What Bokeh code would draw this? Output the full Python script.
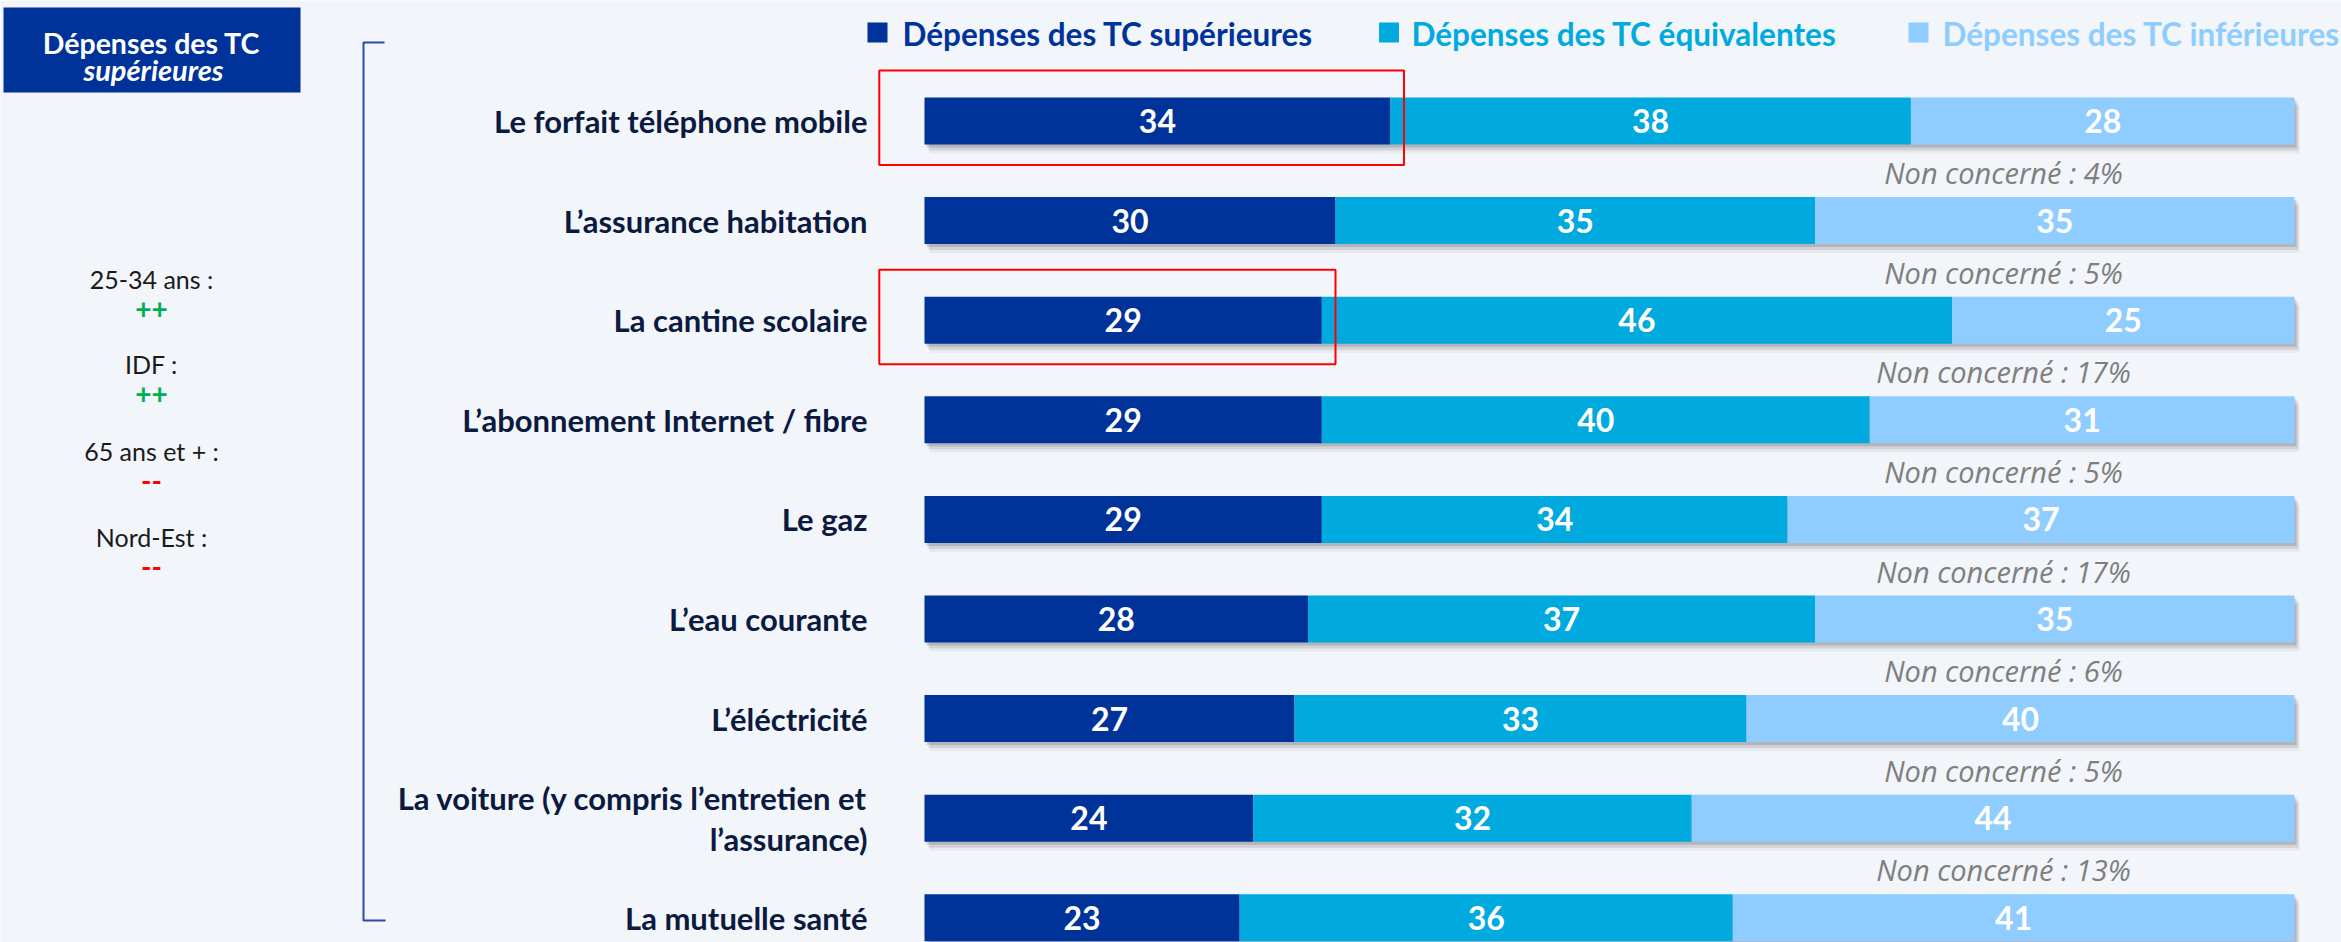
from bokeh.plotting import figure
from bokeh.models import Range1d
from bokeh.core.properties import value
from bokeh.embed import file_html
from bokeh.resources import INLINE

# ---------------- data ----------------
categories = [
    "Le forfait téléphone mobile",
    "L’assurance habitation",
    "La cantine scolaire",
    "L’abonnement Internet / fibre",
    "Le gaz",
    "L’eau courante",
    "L’éléctricité",
    "La voiture (y compris l’entretien et\nl’assurance)",
    "La mutuelle santé",
]
sup = [34, 30, 29, 29, 29, 28, 27, 24, 23]
equiv = [38, 35, 46, 40, 34, 37, 33, 32, 36]
inf = [28, 35, 25, 31, 37, 35, 40, 44, 41]
non_concerne = [4, 5, 17, 5, 17, 6, 5, 13, None]
series_names = ["Dépenses des TC supérieures", "Dépenses des TC équivalentes", "Dépenses des TC inférieures"]
colors = ["#003399", "#00AADE", "#8FCCFF"]
highlight_rows = [0, 2]
side_title = ["Dépenses des TC", "supérieures"]
side_groups = ["25-34 ans :", "IDF :", "65 ans et + :", "Nord-Est :"]
side_marks = ["++", "++", "--", "--"]
side_mark_colors = ["#00B050", "#00B050", "#FF0000", "#FF0000"]

# ---------------- layout ----------------
W, H = 2341, 942
M = 0
X0, PXU = 924.0, 13.7      # page px of 0 %, px per %
Y0, ROWH = 120.5, 99.6     # page px of first row centre, px per row
BG = "#F2F5FA"
FONT = value("Lato")


def fx(px):
    return (px - X0) / PXU


def fy(py):
    return (py - Y0) / ROWH


p = figure(width=W, height=H, output_backend="svg", toolbar_location=None,
           x_range=Range1d(fx(M), fx(M + W)), y_range=Range1d(fy(M + H), fy(M)),
           min_border=0, outline_line_color=None,
           background_fill_color=BG, border_fill_color=BG)
p.axis.visible = False
p.grid.visible = False

n = len(categories)
rows = list(range(n))
bar_h = 47 / ROWH
totals = [a + b + c for a, b, c in zip(sup, equiv, inf)]

# shadows
for dx, dy, a in [(5, 9, 0.06), (4, 6, 0.12), (2, 3, 0.18)]:
    p.hbar(y=[r + dy / ROWH for r in rows], left=[dx / PXU] * n,
           right=[t + dx / PXU for t in totals], height=bar_h,
           fill_color="#30343a", fill_alpha=a, line_color=None)

# stacked bars
lefts = [0] * n
for vals, col in zip([sup, equiv, inf], colors):
    rights = [l + v for l, v in zip(lefts, vals)]
    p.hbar(y=rows, left=lefts, right=rights, height=bar_h,
           fill_color=col, line_color=None)
    p.text(x=[(l + r) / 2 for l, r in zip(lefts, rights)], y=rows,
           text=[str(v) for v in vals], text_font=FONT, text_font_style="bold",
           text_font_size="32px", text_color="white",
           text_align="center", text_baseline="middle")
    lefts = rights

# category labels
p.text(x=[fx(867)] * n, y=rows, text=categories, text_font=FONT,
       text_font_style="bold", text_font_size="31px", text_color="#0B1A3E",
       text_align="right", text_baseline="middle", text_line_height=1.08)

# non concerné labels
nc_rows = [r for r in rows if non_concerne[r] is not None]
p.text(x=[fx(2003)] * len(nc_rows), y=[r + 0.52 for r in nc_rows],
       text=[f"Non concerné : {non_concerne[r]}%" for r in nc_rows],
       text_font=value("Open Sans"), text_font_style="italic", text_font_size="29px",
       text_color="#7F7F7F", text_align="center", text_baseline="middle")

# highlight boxes
p.quad(left=[-3.3] * len(highlight_rows),
       right=[sup[r] + 1.0 for r in highlight_rows],
       top=[r - 50.5 / ROWH for r in highlight_rows],
       bottom=[r + 44 / ROWH for r in highlight_rows],
       fill_alpha=0, line_color="#FF0000", line_width=2)

# legend
sq_x = [877, 1388.5, 1918]
tx_x = [902, 1411, 1942]
p.rect(x=[fx(v) for v in sq_x], y=[fy(32)] * 3, width=20 / PXU, height=20 / ROWH,
       fill_color=colors, line_color=None)
p.text(x=[fx(v) for v in tx_x], y=[fy(33)] * 3, text=series_names, text_font=FONT,
       text_font_style="bold", text_font_size="31.5px", text_color=colors,
       text_align="left", text_baseline="middle")

# bracket
p.line(x=[fx(384), fx(363), fx(363), fx(385)], y=[fy(42), fy(42), fy(920), fy(920)],
       line_color="#2A4BA6", line_width=2)

# side title box
p.quad(left=[fx(3)], right=[fx(300)], top=[fy(7)], bottom=[fy(92)],
       fill_color="#003399", line_color=None)
p.text(x=[fx(151)], y=[fy(42)], text=[side_title[0]], text_font=FONT,
       text_font_style="bold", text_font_size="28.5px", text_color="white",
       text_align="center", text_baseline="middle")
p.text(x=[fx(153)], y=[fy(69)], text=[side_title[1]], text_font=FONT,
       text_font_style="bold italic", text_font_size="29px", text_color="white",
       text_align="center", text_baseline="middle")

# side annotations
gy = [278, 363, 450, 536]
p.text(x=[fx(151)] * 4, y=[fy(v) for v in gy], text=side_groups, text_font=FONT,
       text_font_size="25px", text_color="#1A1A1A",
       text_align="center", text_baseline="middle")
p.text(x=[fx(151)] * 4, y=[fy(v + 30) for v in gy], text=side_marks, text_font=FONT,
       text_font_style="bold", text_font_size="28px", text_color=side_mark_colors,
       text_align="center", text_baseline="middle")

open("out.html", "w").write(file_html(p, INLINE))
